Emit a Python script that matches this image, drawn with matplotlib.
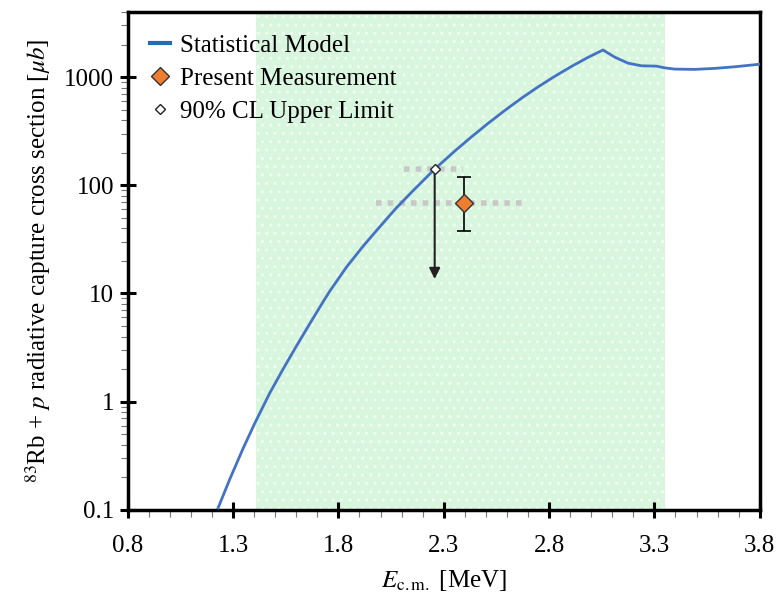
import matplotlib.pyplot as plt
import matplotlib.ticker as mticker
import numpy as np

plt.rcParams['font.family'] = ['Liberation Serif', 'DejaVu Serif']
plt.rcParams['mathtext.fontset'] = 'stix'
plt.rcParams['hatch.linewidth'] = 1.0

# Statistical-model cross section (MeV, microbarn)
model_energy = [1.2286, 1.2842, 1.3473, 1.4028, 1.4740, 1.5372, 1.6008, 1.6639,
                1.7270, 1.7588, 1.8381, 1.9169, 1.9962, 2.0754, 2.1543, 2.2335,
                2.2570, 2.3522, 2.4315, 2.5103, 2.5895, 2.6688, 2.7476, 2.8268,
                2.9061, 2.9849, 3.0561, 3.1117, 3.1748, 3.2384, 3.3096, 3.3490,
                3.3965, 3.4914, 3.5864, 3.6813, 3.8000]
model_sigma = [0.104, 0.192, 0.369, 0.631, 1.20, 2.00, 3.27, 5.25,
               8.36, 10.5, 17.5, 27.3, 41.3, 61.9, 89.1, 127.0,
               141.0, 207.0, 280.0, 373.0, 491.0, 637.0, 811.0, 1016.0,
               1253.0, 1521.0, 1780.0, 1529.0, 1345.0, 1271.0, 1262.0, 1217.0,
               1185.0, 1178.0, 1203.0, 1245.0, 1315.0]

# Measured point with asymmetric errors
meas_energy = 2.395
meas_sigma = 68.0
meas_sigma_lo, meas_sigma_hi = 37.6, 120.0
meas_energy_lo, meas_energy_hi = 1.98, 2.69

# 90% CL upper limit
ul_energy = 2.257
ul_sigma = 142.0
ul_arrow_end = 13.6
ul_energy_lo, ul_energy_hi = 2.11, 2.39

# Gamow window
window = (1.41, 3.35)

fig = plt.figure(figsize=(7.84, 5.97), dpi=100)
ax = fig.add_axes([0.163, 0.146, 0.806, 0.834])

ax.axvspan(*window, facecolor='#d8f6dd', edgecolor='#f2fcf3', hatch='..', lw=0, zorder=0)

ax.plot(model_energy, model_sigma, color='#4472c4', lw=2, zorder=3, label='Statistical Model')

# energy spread bars
dash = dict(color='#c8c8c8', lw=4, ls=(0, (1, 1.1)), solid_capstyle='butt', zorder=2)
ax.plot([meas_energy_lo, meas_energy_hi], [meas_sigma, meas_sigma], **dash)
ax.plot([ul_energy_lo, ul_energy_hi], [ul_sigma, ul_sigma], **dash)

ax.errorbar([meas_energy], [meas_sigma],
            yerr=[[meas_sigma - meas_sigma_lo], [meas_sigma_hi - meas_sigma]],
            fmt='none', ecolor='black', elinewidth=1.2, capsize=5, capthick=1.2, zorder=4)
ax.plot([meas_energy], [meas_sigma], ls='none', marker='D', ms=9.5, mfc='#ed7d31',
        mec='#333333', mew=1, zorder=5, label='Present Measurement')

ax.annotate('', xy=(ul_energy, ul_arrow_end), xytext=(ul_energy, ul_sigma),
            arrowprops=dict(arrowstyle='-|>', color='#222222', lw=1.5,
                            mutation_scale=16, shrinkA=0, shrinkB=0), zorder=4)
ax.plot([ul_energy], [ul_sigma], ls='none', marker='D', ms=5, mfc='white',
        mec='#222222', mew=1, zorder=5, label='90% CL Upper Limit')

ax.set_yscale('log')
ax.set_xlim(0.8, 3.8)
ax.set_ylim(0.1, 4000)
ax.set_xticks([0.8, 1.3, 1.8, 2.3, 2.8, 3.3, 3.8])
ax.xaxis.set_minor_locator(mticker.MultipleLocator(0.1))
ax.set_yticks([0.1, 1, 10, 100, 1000])
ax.yaxis.set_major_formatter(mticker.FixedFormatter(['0.1', '1', '10', '100', '1000']))
ax.yaxis.set_minor_locator(mticker.LogLocator(base=10, subs=np.arange(2, 10)))
ax.yaxis.set_minor_formatter(mticker.NullFormatter())

ax.tick_params(which='major', direction='inout', length=12, width=2.2, labelsize=18)
ax.tick_params(axis='x', which='major', pad=12)
ax.tick_params(axis='y', which='major', pad=4)
ax.tick_params(which='minor', direction='out', length=5, width=0.8, color='#777777')
for s in ax.spines.values():
    s.set_linewidth(2.5)

ax.set_xlabel(r'$E_{\mathrm{c.m.}}$ [MeV]', fontsize=18, labelpad=8)
ax.set_ylabel(r'$^{83}$Rb + $p$ radiative capture cross section [$\mu b$]',
              fontsize=18, labelpad=8)

leg = ax.legend(loc='upper left', frameon=False, fontsize=18, handlelength=0.8,
                handletextpad=0.4, borderaxespad=0.6, labelspacing=0.42,
                borderpad=0.3)
# thicker swatch for the model line
leg.legend_handles[0].set_linewidth(3)
leg.legend_handles[0].set_color('#1f6fb8')

fig.savefig('out.png', dpi=100)
